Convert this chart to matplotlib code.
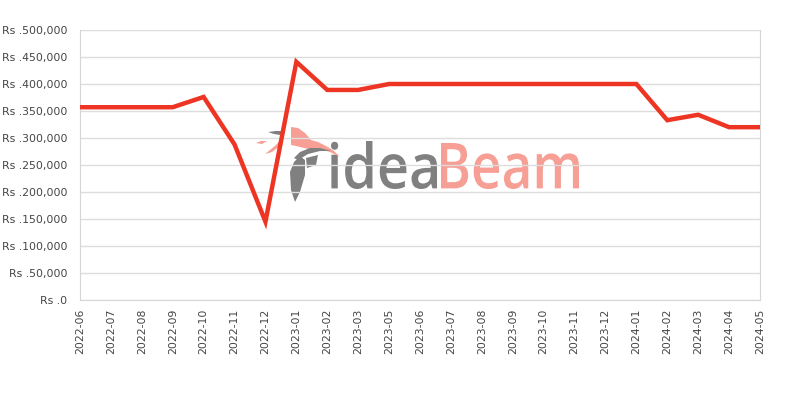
import matplotlib
matplotlib.use('Agg')
import matplotlib.pyplot as plt
from matplotlib.ticker import FuncFormatter
from matplotlib.textpath import TextPath
from matplotlib.patches import PathPatch, Polygon
from matplotlib.font_manager import FontProperties
from matplotlib.transforms import Affine2D, IdentityTransform

# Datos del gráfico
meses = ['2022-06', '2022-07', '2022-08', '2022-09', '2022-10', '2022-11', '2022-12',
         '2023-01', '2023-02', '2023-03', '2023-05', '2023-06', '2023-07', '2023-08',
         '2023-09', '2023-10', '2023-11', '2023-12', '2024-01', '2024-02', '2024-03',
         '2024-04', '2024-05']
precios = [357000, 357000, 357000, 357000, 376000, 288000, 145000,
           441000, 389000, 389000, 400000, 400000, 400000, 400000,
           400000, 400000, 400000, 400000, 400000, 333000, 343000,
           320000, 320000]
y_ticks = list(range(0, 500001, 50000))

fig = plt.figure(figsize=(8, 4), dpi=100)
ax = fig.add_axes([0.1, 0.25, 0.85, 0.675])


# Marca de agua (en pixeles de la figura, origen abajo a la izquierda)
def marca(texto, color, x0, x1, y0, y1):
    tp = TextPath((0, 0), texto, size=100,
                  prop=FontProperties(family='Open Sans', weight='semibold'))
    ext = tp.get_extents()
    tr = Affine2D().translate(-ext.x0, -ext.y0).scale((x1 - x0) / ext.width,
                                                      (y1 - y0) / ext.height).translate(x0, y0)
    fig.add_artist(PathPatch(tr.transform_path(tp), facecolor=color, edgecolor='none',
                             transform=IdentityTransform(), zorder=0))


marca('idea', '#808080', 331, 437, 400 - 189, 400 - 141)
marca('Beam', '#f79e95', 441, 579, 400 - 189, 400 - 143)

# Pajaro aproximado del logo (coordenadas de pixel, y hacia abajo)
pajaro = [
    ([(291, 127), (298, 128), (305, 133), (311, 140), (318, 142), (326, 146),
      (334, 151), (340, 157), (330, 152), (320, 149), (313, 150), (304, 148),
      (296, 146), (291, 145)], '#f79e95'),
    ([(282, 138), (276, 145), (270, 150), (265, 154), (272, 152), (280, 146)], '#f79e95'),
    ([(256, 143), (261, 141), (267, 141), (262, 144)], '#f79e95'),
    ([(268, 132), (276, 131), (284, 131), (280, 135), (274, 134)], '#808080'),
    ([(294, 158), (300, 152), (310, 148), (320, 148), (331, 151), (320, 151),
      (308, 154), (298, 160)], '#808080'),
    ([(300, 156), (305, 160), (305, 175), (300, 192), (295, 202), (291, 190),
      (290, 172), (294, 162)], '#808080'),
    ([(306, 158), (318, 155), (316, 165), (307, 168)], '#808080'),
]
for pts, col in pajaro:
    fig.add_artist(Polygon([(px, 400 - py) for px, py in pts], closed=True,
                           facecolor=col, edgecolor='none',
                           transform=IdentityTransform(), zorder=0))

x = list(range(len(meses)))
ax.plot(x, precios, color='#ee3524', linewidth=3.2, solid_joinstyle='miter', zorder=3)

ax.set_xlim(0, len(meses) - 1)
ax.set_ylim(0, 500000)
ax.set_yticks(y_ticks)
ax.yaxis.set_major_formatter(FuncFormatter(lambda v, p: 'Rs .' + format(int(v), ',')))
ax.set_xticks(x)
ax.set_xticklabels(meses, rotation=90)
ax.tick_params(axis='both', length=0, labelsize=7.8, labelcolor='#444444')
ax.tick_params(axis='x', pad=6)
ax.tick_params(axis='y', pad=9)

ax.grid(axis='y', color='#dddddd', linewidth=1)
ax.set_axisbelow(True)
ax.patch.set_alpha(0)
for s in ['left', 'bottom', 'right']:
    ax.spines[s].set_color('#d6d6d6')
ax.spines['top'].set_visible(False)

fig.savefig('out.png', dpi=100)
